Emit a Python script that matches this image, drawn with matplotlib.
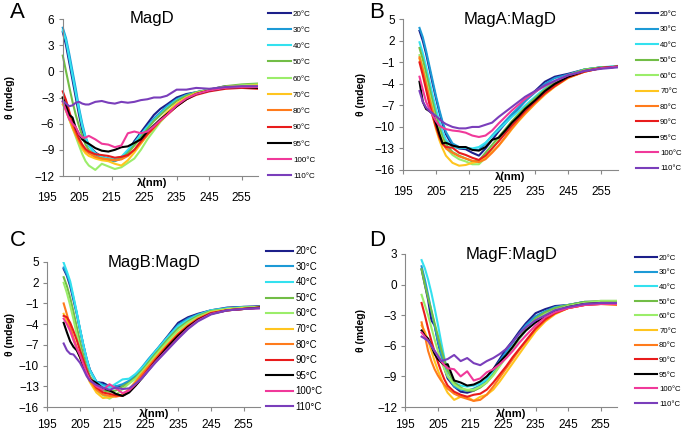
import matplotlib
matplotlib.use("Agg")
import matplotlib.pyplot as plt

plt.rcParams['font.family'] = ['Liberation Sans', 'DejaVu Sans']

wavelength = [200, 201, 202, 203, 204, 205, 206, 207, 208, 210, 212, 214, 216, 218,
              220, 222, 224, 226, 228, 230, 232, 235, 238, 241, 245, 250, 255, 260]

temps = ['20°C', '30°C', '40°C', '50°C', '60°C', '70°C', '80°C', '90°C', '95°C', '100°C', '110°C']
colors = ['#1c1f8a', '#1d9ad6', '#33e1ef', '#72bd46', '#9bed6a', '#ffc51f',
          '#ff7b1c', '#e81c1c', '#000000', '#f0399a', '#7a3ebb']

# panel A - MagD
magd = [
    [4.5, 3, 1, -1, -3, -5, -6.8, -7.8, -8.5, -9.3, -9.8, -10, -10.2, -10, -9.2, -8, -7, -6, -5, -4.3, -3.8, -3, -2.6, -2.4, -2.1, -1.7, -1.7, -1.7],
    [5, 3.8, 2, 0, -2, -4.2, -6, -7.5, -8.5, -9.5, -10, -10.2, -10.3, -10, -9.3, -8.3, -7.3, -6.3, -5.4, -4.7, -4, -3.2, -2.7, -2.4, -2.1, -1.8, -1.7, -1.6],
    [4.7, 3.5, 1.5, -0.5, -2.5, -4.5, -6.3, -7.6, -8.5, -9.4, -9.8, -10, -10, -9.8, -9, -8.2, -7.2, -6.4, -5.6, -4.9, -4.2, -3.3, -2.8, -2.4, -2.1, -1.8, -1.6, -1.5],
    [1.8, 0, -1.8, -3.5, -5, -6.3, -7.4, -8.4, -9, -9.8, -10, -10.1, -10.2, -10, -9.4, -8.5, -7.6, -6.6, -5.7, -5, -4.3, -3.4, -2.8, -2.4, -2.1, -1.7, -1.5, -1.4],
    [-3.5, -4.5, -5.5, -6.5, -7.5, -8.5, -9.5, -10.3, -10.8, -11.3, -10.6, -10.9, -11.2, -11, -10.5, -10, -9, -7.8, -6.8, -5.8, -5, -3.8, -3, -2.5, -2.1, -1.8, -1.6, -1.5],
    [-3.8, -4.5, -5.5, -6.5, -7.3, -8.1, -8.9, -9.4, -9.7, -10, -10.2, -10.3, -10.6, -10.8, -10.2, -9.3, -8.3, -7.3, -6.3, -5.5, -4.7, -3.7, -3, -2.5, -2.2, -1.8, -1.7, -1.6],
    [-3, -4, -5.2, -6.3, -7.2, -8, -8.6, -9.1, -9.4, -9.8, -10, -10.1, -10.2, -10.1, -9.7, -9, -8.2, -7.3, -6.5, -5.7, -5, -4, -3.2, -2.6, -2.2, -1.9, -1.8, -1.8],
    [-2.3, -3.3, -4.6, -5.8, -6.8, -7.7, -8.4, -8.9, -9.2, -9.5, -9.6, -9.7, -9.9, -9.8, -9.6, -9, -8, -7.2, -6.4, -5.6, -5, -4, -3.2, -2.7, -2.3, -2, -1.9, -2],
    [-3, -4, -5, -5.3, -6.5, -7.2, -7.8, -8.1, -8.3, -8.8, -9.1, -9.2, -9, -8.7, -8.6, -8.2, -7.8, -6.9, -6.2, -5.5, -4.9, -4, -3.2, -2.6, -2.2, -1.9, -1.8, -1.9],
    [-3.5, -4.5, -5.5, -6, -6.4, -7.2, -7.6, -7.6, -7.4, -7.8, -8.3, -8.4, -8.7, -8.5, -7.1, -6.9, -7.1, -6.9, -6.3, -5.6, -5, -3.9, -3.1, -2.6, -2.2, -1.9, -1.8, -1.8],
    [-3.4, -3.7, -4, -3.9, -3.6, -3.5, -3.7, -3.8, -3.8, -3.5, -3.4, -3.6, -3.7, -3.5, -3.6, -3.5, -3.3, -3.2, -3, -3, -2.8, -2.1, -2.1, -1.9, -2, -1.8, -1.7, -1.7],
]

# panel B - MagA:MagD
maga_magd = [
    [3.4, 2, 0.2, -1.9, -4, -6, -7.9, -9.6, -11, -12.6, -13, -13.1, -13.6, -14, -13, -11.8, -10.6, -9.5, -8.4, -7.4, -6.4, -5, -3.7, -3, -2.6, -2, -1.7, -1.6],
    [3.8, 2.5, 0.6, -1.5, -3.6, -5.7, -7.6, -9.3, -10.7, -12.3, -12.8, -12.9, -13.1, -13.2, -12.3, -11.2, -10.2, -9.2, -8.2, -7.3, -6.4, -5.2, -4, -3.2, -2.7, -2, -1.7, -1.6],
    [1.8, 0.3, -1.6, -3.6, -5.6, -7.5, -9.2, -10.7, -11.8, -12.8, -12.9, -12.9, -13, -12.8, -12.2, -11.3, -10.4, -9.5, -8.6, -7.8, -7, -5.8, -4.6, -3.6, -2.8, -2, -1.7, -1.5],
    [1, -0.6, -2.5, -4.5, -6.5, -8.4, -10, -11.4, -12.4, -13.5, -14, -14.4, -14.8, -14.7, -13.6, -12.5, -11.4, -10.3, -9.2, -8.2, -7.3, -6, -4.8, -3.8, -2.8, -2, -1.7, -1.6],
    [0, -1.6, -3.5, -5.5, -7.4, -9.2, -10.7, -12, -12.9, -13.9, -14.5, -14.8, -15.2, -15.2, -14.3, -13, -11.8, -10.6, -9.5, -8.5, -7.6, -6.3, -5.1, -4.1, -3, -2.1, -1.8, -1.6],
    [-0.5, -2.3, -4.5, -6.5, -8.5, -10.3, -11.8, -13, -14, -15, -15.4, -15.3, -15, -14.8, -14.2, -13.5, -12.6, -11.5, -10.3, -9.2, -8.2, -6.8, -5.5, -4.4, -3.2, -2.3, -1.8, -1.6],
    [-0.3, -2, -4, -6, -7.8, -9.6, -11, -12.2, -13, -13.6, -14.1, -14.4, -14.7, -14.9, -14.5, -13.6, -12.6, -11.4, -10.2, -9.1, -8.1, -6.7, -5.4, -4.3, -3.1, -2.3, -1.8, -1.6],
    [-1, -2.8, -4.8, -6.8, -8.5, -10, -11.4, -12.4, -12.8, -12.9, -13.6, -13.9, -14.3, -14.6, -14, -13, -12, -10.9, -9.8, -8.8, -7.8, -6.5, -5.3, -4.3, -3.1, -2.3, -1.8, -1.6],
    [-3.7, -6.5, -7.5, -7.8, -8.2, -9.5, -11, -12.3, -12.2, -12.6, -12.8, -12.8, -13.2, -13.3, -12.8, -11.8, -11.5, -10.5, -9.4, -8.5, -7.5, -6.3, -5, -4, -3, -2.2, -1.8, -1.6],
    [-3, -4.8, -6.5, -7.5, -8.4, -9.2, -9.8, -10.1, -10.3, -10.5, -10.6, -10.8, -11.2, -11.4, -11.2, -10.5, -9.5, -8.6, -7.7, -6.9, -6.1, -5.1, -4.3, -3.6, -2.8, -2.2, -1.8, -1.6],
    [-5, -6.5, -7.3, -7.8, -8.1, -8.5, -8.9, -9.3, -9.6, -10, -10.2, -10.2, -10, -10, -9.7, -9.4, -8.6, -7.9, -7.2, -6.5, -5.8, -5, -4.2, -3.6, -2.8, -2.2, -1.9, -1.7],
]

# panel C - MagB:MagD
magb_magd = [
    [4, 3, 1.5, -0.5, -2.5, -4.8, -7, -9, -10.6, -12.4, -12.5, -13, -13, -13, -12.3, -11.5, -10.4, -9.2, -8, -6.8, -5.6, -3.8, -3, -2.5, -2, -1.6, -1.5, -1.4],
    [4.2, 3.2, 1.8, -0.2, -2.4, -4.8, -7, -9, -10.6, -12.3, -12.8, -13, -13, -12.7, -12.2, -11.3, -10.2, -9, -7.9, -6.8, -5.7, -4.1, -3.2, -2.6, -2, -1.7, -1.5, -1.5],
    [4.9, 3.6, 2.2, 0, -2.3, -4.7, -7, -9, -10.7, -12.4, -13, -13.2, -12.6, -12, -11.9, -11.2, -10.3, -9.2, -8, -6.9, -5.8, -4.3, -3.4, -2.7, -2, -1.7, -1.6, -1.5],
    [2.8, 1.5, -0.2, -2.2, -4.4, -6.5, -8.5, -10.2, -11.5, -13, -13.6, -13.8, -13.6, -13, -12.5, -11.7, -10.7, -9.5, -8.3, -7.2, -6.1, -4.6, -3.6, -2.8, -2.1, -1.8, -1.6, -1.5],
    [2, 0.5, -1.3, -3.3, -5.5, -7.5, -9.4, -11, -12.2, -13.6, -14.3, -14.8, -14.2, -13.4, -12.6, -11.9, -10.9, -9.8, -8.6, -7.5, -6.4, -4.9, -3.8, -3, -2.2, -1.8, -1.6, -1.5],
    [-2.5, -3.5, -4.8, -6.2, -7.5, -8.8, -10, -11.3, -12.4, -13.9, -14.7, -14.6, -14.4, -14.2, -13.4, -12.3, -11.1, -10, -8.9, -7.8, -6.8, -5.3, -4.1, -3.2, -2.3, -1.9, -1.7, -1.6],
    [-1, -2.6, -4.4, -6, -7.4, -8.7, -10, -11.2, -12.2, -13.5, -14.2, -14.4, -14.5, -14.3, -13.5, -12.4, -11.2, -10.1, -9, -7.9, -6.9, -5.4, -4.2, -3.2, -2.4, -2, -1.8, -1.6],
    [-2.8, -3, -3.8, -5, -6.3, -7.8, -9.2, -10.6, -11.8, -13.2, -13.9, -14.1, -14.3, -14.4, -13.8, -12.8, -11.6, -10.4, -9.2, -8.1, -7, -5.5, -4.3, -3.3, -2.4, -2, -1.8, -1.6],
    [-3.8, -5.2, -6.5, -7.3, -7.8, -8.8, -10, -11, -12, -12.5, -13.3, -13.6, -14.1, -14.4, -13.9, -12.9, -11.8, -10.6, -9.4, -8.3, -7.2, -5.7, -4.4, -3.4, -2.5, -2, -1.8, -1.6],
    [-3.2, -4, -5, -6.3, -7.5, -8.5, -9.8, -11, -12, -13, -13.5, -12.7, -13.3, -14, -13.6, -12.7, -11.7, -10.6, -9.5, -8.5, -7.5, -6, -4.6, -3.5, -2.5, -2, -1.8, -1.7],
    [-6.8, -7.8, -8.3, -8.4, -9, -9.6, -10.5, -11.5, -12.2, -12.8, -13.2, -13.5, -13.2, -13.4, -13.3, -12.6, -11.8, -10.7, -9.6, -8.6, -7.6, -6.1, -4.7, -3.6, -2.6, -2, -1.8, -1.7],
]

# panel D - MagF:MagD
magf_magd = [
    [1.5, 0, -1.5, -3.5, -4, -5.6, -7, -8.2, -9.2, -10, -10.5, -10.6, -10.4, -10, -9.3, -8.3, -7.3, -6.3, -5.5, -4.6, -3.8, -2.8, -2.4, -2.1, -2, -1.7, -1.7, -1.7],
    [1.8, 0.5, -1, -2.6, -4, -5.5, -6.8, -8, -9, -10, -10.3, -10.4, -10.2, -9.9, -9.3, -8.5, -7.5, -6.6, -5.7, -4.8, -4, -3.1, -2.6, -2.2, -2, -1.7, -1.7, -1.7],
    [2.4, 1.6, 0.5, -0.8, -2.3, -3.9, -5.6, -7.2, -8.5, -9.6, -9.9, -10, -9.9, -9.7, -9.3, -8.6, -7.8, -7, -6.2, -5.3, -4.5, -3.4, -2.8, -2.3, -2, -1.8, -1.7, -1.7],
    [1.5, 0, -1.3, -2.5, -3.8, -5, -6.3, -7.4, -8.4, -9.6, -10.1, -10.4, -10.4, -10.1, -9.6, -8.8, -7.9, -7, -6.1, -5.2, -4.4, -3.3, -2.7, -2.3, -2, -1.7, -1.6, -1.6],
    [-1, -2, -3, -4.2, -5.4, -6.5, -7.5, -8.3, -9, -9.8, -10.2, -10.3, -10.3, -10, -9.6, -8.9, -8, -7.1, -6.2, -5.3, -4.5, -3.5, -2.9, -2.5, -2.1, -1.8, -1.6, -1.6],
    [-4, -4.6, -5.5, -6.5, -7.5, -8.4, -9.2, -10, -10.6, -11.3, -11, -11, -11.4, -11, -10.8, -10.3, -9.5, -8.6, -7.7, -6.8, -5.9, -4.6, -3.6, -2.9, -2.3, -2, -1.8, -1.8],
    [-3.7, -5, -6.5, -7.5, -8.3, -8.9, -9.4, -9.8, -10.2, -10.7, -11, -11.2, -11.4, -11.3, -10.8, -10, -9.1, -8.2, -7.3, -6.4, -5.6, -4.4, -3.5, -2.8, -2.3, -2, -1.9, -2],
    [-1.8, -3, -4.3, -5.5, -6.6, -7.6, -8.5, -9.3, -9.9, -10.5, -10.8, -11, -10.8, -10.7, -10.3, -9.6, -8.8, -8, -7.1, -6.3, -5.5, -4.3, -3.4, -2.8, -2.3, -2, -1.9, -1.9],
    [-4.5, -5, -5.3, -6, -6.8, -7.3, -7.6, -7.9, -7.8, -9.4, -9.6, -9.9, -9.8, -9.5, -9, -8.3, -7.6, -6.9, -6.1, -5.2, -4.5, -3.7, -3.2, -2.6, -2.2, -1.9, -1.8, -1.8],
    [-4.7, -5.1, -5.5, -6, -6.5, -7, -7.5, -7.9, -8.2, -8.3, -9, -8.5, -9.4, -9.2, -8.6, -8.3, -7.8, -7.2, -6.5, -5.7, -5, -4, -3.2, -2.7, -2.3, -2, -1.9, -1.9],
    [-5.1, -5.3, -5.5, -6, -6.5, -7, -7.5, -7.4, -7.3, -6.9, -7.5, -7.2, -7.7, -7.9, -7.5, -7.2, -6.8, -6.3, -5.6, -4.8, -4.2, -3.5, -3, -2.5, -2.2, -1.9, -1.8, -1.8],
]

W, H = 685, 430
fig = plt.figure(figsize=(W / 100, H / 100), dpi=100)


def px_axes(left, top, right, bottom):
    return fig.add_axes([left / W, 1 - bottom / H, (right - left) / W, (bottom - top) / H])


panels = [
    # data, title, letter, letter pos, axes box, ylim, yticks, y-axis crossing,
    # legend anchor, row spacing, legend size, xtick pad
    (magd, 'MagD', 'A', (17, 12), (46.5, 19, 258, 176), (-12, 6), range(-12, 7, 3), 200, (268, 95), 1.07, 5.8, 8.5),
    (maga_magd, 'MagA:MagD', 'B', (377, 12), (403, 19.3, 617.5, 170), (-16, 5), range(-16, 6, 3), 195, (636, 91.5), 1.03, 5.6, 8.5),
    (magb_magd, 'MagB:MagD', 'C', (18, 240), (47.3, 262, 260, 407), (-16, 5), range(-16, 6, 3), 195, (266, 329), 0.58, 6.9, 5.5),
    (magf_magd, 'MagF:MagD', 'D', (377, 240), (405.3, 254, 617, 407), (-12, 3), range(-12, 4, 3), 195, (635, 331), 0.92, 5.6, 5.5),
]

for data, title, letter, letter_xy, box, ylim, yticks, cross, leg_xy, spacing, leg_fs, xpad in panels:
    ax = px_axes(*box)
    for vals, lab, c in zip(data, temps, colors):
        ax.plot(wavelength, vals, color=c, lw=1.5, label=lab, solid_joinstyle='round')
    ax.set_xlim(195, 260)
    ax.set_ylim(*ylim)
    ax.set_xticks(range(195, 260, 10))
    ax.set_yticks(list(yticks))
    ax.tick_params(labelsize=8.5, length=3, width=0.8, color='#888888', pad=3)
    ax.tick_params(axis='x', pad=xpad)
    for s in ['top', 'right']:
        ax.spines[s].set_visible(False)
    for s in ['left', 'bottom']:
        ax.spines[s].set_color('#888888')
        ax.spines[s].set_linewidth(0.8)
    if cross != 195:
        ax.spines['left'].set_position(('data', cross))
        ax.spines['bottom'].set_bounds(cross, 260)
        ax.xaxis.get_major_ticks()[0].tick1line.set_visible(False)
    ax.set_xlabel('λ(nm)', fontsize=8, fontweight='bold')
    ax.xaxis.set_label_coords(0.5, -0.045)
    ax.xaxis.label.set_va('center')
    ax.set_ylabel('θ (mdeg)', fontsize=7.5, fontweight='bold')
    lx = 10 if box[0] < 300 else 361
    ax.yaxis.set_label_coords((lx - box[0]) / (box[2] - box[0]), 0.5)
    ax.yaxis.label.set_va('center')
    ax.text(0.5, 1.0, title, transform=ax.transAxes, ha='center', va='center', fontsize=12)
    fig.text(letter_xy[0] / W, 1 - letter_xy[1] / H, letter, fontsize=16, ha='center', va='center')
    ax.legend(loc='center left', bbox_to_anchor=(leg_xy[0] / W, 1 - leg_xy[1] / H),
              bbox_transform=fig.transFigure, frameon=False, fontsize=leg_fs,
              handlelength=2.8, handletextpad=0.3, labelspacing=spacing, borderpad=0,
              borderaxespad=0)

fig.savefig('out.png', dpi=100, facecolor='white')
